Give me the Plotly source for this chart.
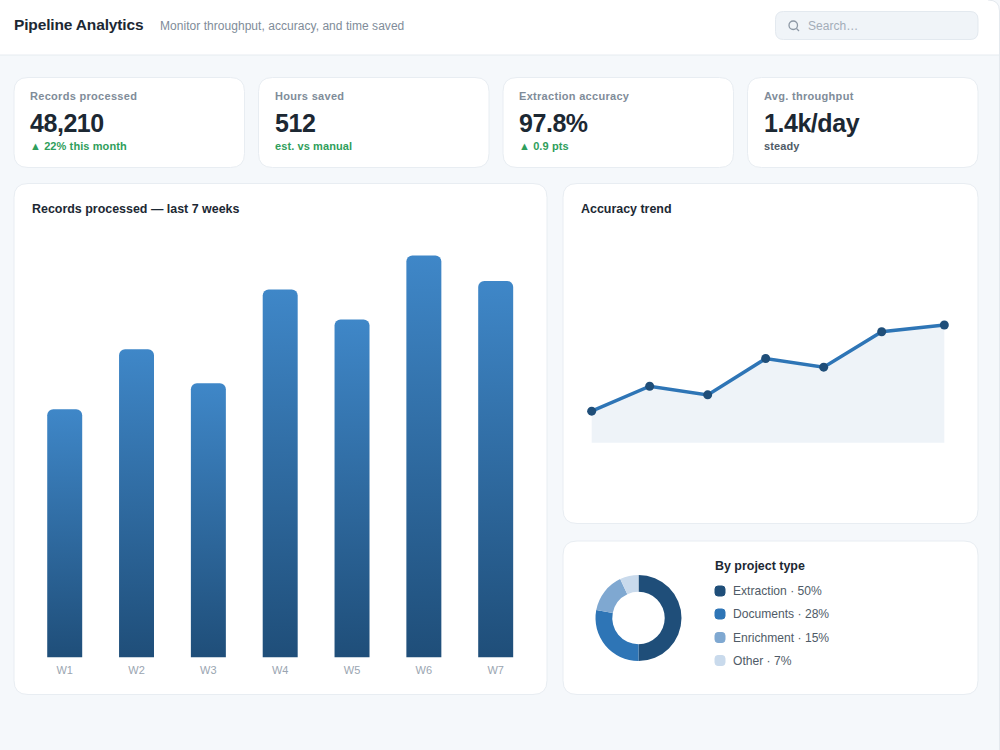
import plotly.graph_objects as go

# Dashboard content
kpi_labels = ["Records processed", "Hours saved", "Extraction accuracy", "Avg. throughput"]
kpi_values = ["48,210", "512", "97.8%", "1.4k/day"]
kpi_notes = ["▲ 22% this month", "est. vs manual", "▲ 0.9 pts", "steady"]
kpi_note_colors = ["#2f9e5b", "#2f9e5b", "#2f9e5b", "#4f5b67"]

weeks = ["W1", "W2", "W3", "W4", "W5", "W6", "W7"]
records = [5170, 6420, 5710, 7660, 7040, 8370, 7840]

trend_x = [0, 1, 2, 3, 4, 5, 6.08]
accuracy = [96.90, 97.16, 97.07, 97.45, 97.36, 97.73, 97.80]

project_types = ["Extraction", "Documents", "Enrichment", "Other"]
project_shares = [50, 28, 15, 7]
project_colors = ["#1f4e79", "#2e75b6", "#7fa8d1", "#c9daec"]

W, H = 1000, 750
BG = "#f5f8fb"
EDGE = "#e8edf2"
INK = "#1c2833"
MUTED = "#808c99"


def fx(px):
    return px / W


def fy(px):
    return 1 - px / H


def rounded(x0, y0, x1, y1, r):
    """SVG path of a rounded rectangle, given in page pixels."""
    a, b, c, d = fx(x0), fy(y0), fx(x1), fy(y1)
    rx, ry = r / W, r / H
    return (
        f"M{a + rx},{b} L{c - rx},{b} Q{c},{b} {c},{b - ry} "
        f"L{c},{d + ry} Q{c},{d} {c - rx},{d} "
        f"L{a + rx},{d} Q{a},{d} {a},{d + ry} "
        f"L{a},{b - ry} Q{a},{b} {a + rx},{b} Z"
    )


def panel(x0, y0, x1, y1, r=14, fill="#ffffff", line=EDGE):
    return dict(type="path", xref="paper", yref="paper", path=rounded(x0, y0, x1, y1, r),
                fillcolor=fill, line=dict(color=line, width=1), layer="below")


def text(x, y, s, size, color, bold=False, family="Liberation Sans"):
    return dict(xref="paper", yref="paper", x=fx(x - 1), y=fy(y), text=s, showarrow=False,
                xanchor="left", yanchor="middle", align="left", borderpad=0,
                font=dict(family=family, size=size, color=color,
                          weight=700 if bold else 400))


shapes = []
notes = []

# Page header with its rounded outer corner
shapes.append(dict(type="path", xref="paper", yref="paper",
                   path=(f"M0,1 L{fx(988)},1 Q{fx(999)},1 {fx(999)},{fy(11)} "
                         f"L{fx(999)},{fy(55)} L0,{fy(55)} Z"),
                   fillcolor="#ffffff", line=dict(width=0), layer="below"))
shapes.append(dict(type="line", xref="paper", yref="paper", x0=0, x1=fx(999),
                   y0=fy(55), y1=fy(55), line=dict(color="#e6ebf0", width=1), layer="below"))
shapes.append(dict(type="path", xref="paper", yref="paper",
                   path=(f"M{fx(988)},1 Q{fx(999.5)},1 {fx(999.5)},{fy(11)} L{fx(999.5)},0"),
                   line=dict(color="#e4e9ee", width=1), layer="below"))
shapes.append(dict(type="line", xref="paper", yref="paper", x0=fx(999.5), x1=fx(999.5),
                   y0=fy(11), y1=0, line=dict(color="#e4e9ee", width=1), layer="below"))
notes.append(text(14, 24.5, "Pipeline Analytics", 15.5, INK, True))
notes.append(text(160, 25.5, "Monitor throughput, accuracy, and time saved", 12, MUTED))

# Search box
shapes.append(panel(775.5, 11.5, 978, 39.5, r=8, fill="#f0f4f8", line="#e3e9ef"))
shapes.append(dict(type="circle", xref="paper", yref="paper", x0=fx(789), x1=fx(797.5),
                   y0=fy(21), y1=fy(29.5), line=dict(color="#8d98a5", width=1.3),
                   fillcolor="rgba(0,0,0,0)"))
shapes.append(dict(type="line", xref="paper", yref="paper", x0=fx(796.5), x1=fx(799),
                   y0=fy(28.5), y1=fy(31), line=dict(color="#8d98a5", width=1.3)))
notes.append(text(808, 25.5, "Search…", 12, "#a3adb8"))

# KPI cards
card_left = [14, 258.5, 503, 747.5]
for x0, label, value, note, color in zip(card_left, kpi_labels, kpi_values, kpi_notes, kpi_note_colors):
    shapes.append(panel(x0, 77.5, x0 + 230.5, 167.5))
    notes.append(text(x0 + 16, 96, label, 11, MUTED, True))
    notes.append(text(x0 + 16, 123.5, value, 25, INK, True))
    notes.append(text(x0 + 16, 146, note, 11, color, True))

# Chart panels
shapes.append(panel(14, 183.5, 547, 694.5))
shapes.append(panel(563, 183.5, 978, 523.5))
shapes.append(panel(563, 541, 978, 694.5))
notes.append(text(32, 209, "Records processed — last 7 weeks", 12.45, INK, True))
notes.append(text(581, 209, "Accuracy trend", 12.45, INK, True))
notes.append(text(714.5, 565.5, "By project type", 12.45, INK, True))

# Donut legend
for cy, name, share, color in zip([591, 614, 637.5, 660.5], project_types, project_shares, project_colors):
    shapes.append(panel(715, cy - 5, 725, cy + 5, r=3, fill=color, line=color))
    notes.append(text(733, cy, f"{name} · {share}%", 12.1, "#4f5b67"))

fig = go.Figure()

fig.add_trace(go.Bar(
    x=weeks, y=records, xaxis="x", yaxis="y", width=0.487,
    marker=dict(color="#2e6ca4", cornerradius=6, line=dict(width=0)),
    hoverinfo="x+y",
))

fig.add_trace(go.Scatter(
    x=trend_x, y=accuracy, xaxis="x2", yaxis="y2", mode="lines+markers", fill="tozeroy",
    fillcolor="#eef3f8", line=dict(color="#2e75b6", width=3.5),
    marker=dict(color="#1f4e79", size=9), cliponaxis=False, hoverinfo="y",
))

fig.add_trace(go.Pie(
    labels=project_types, values=project_shares, hole=0.61, sort=False, direction="clockwise",
    rotation=0, textinfo="none", marker=dict(colors=project_colors, line=dict(width=0)),
    domain=dict(x=[fx(595.5), fx(681.5)], y=[fy(661), fy(575)]), showlegend=False,
))

hidden = dict(showgrid=False, zeroline=False, showticklabels=False, ticks="", showline=False)

fig.update_layout(
    width=W, height=H, margin=dict(l=0, r=0, t=0, b=0), autosize=False,
    paper_bgcolor=BG, plot_bgcolor="rgba(0,0,0,0)", showlegend=False,
    shapes=shapes, annotations=notes,
    xaxis=dict(domain=[fx(28.8), fx(531.6)], anchor="y", showgrid=False, zeroline=False, showline=False,
               ticks="", ticklabelstandoff=4,
               tickfont=dict(family="Liberation Sans", size=11, color="#9aa5b1")),
    yaxis=dict(domain=[fy(657.5), fy(240)], anchor="x", range=[0, 8693], **hidden),
    xaxis2=dict(domain=[fx(581), fx(955)], anchor="y2", range=[-0.184, 6.264], **hidden),
    yaxis2=dict(domain=[fy(442.7), fy(240)], anchor="x2", range=[96.57, 98.689], **hidden),
)

# Vertical fade on the bars and tracking on the smaller text
finish = """
var gd = document.getElementById('{plot_id}');
var NS = 'http://www.w3.org/2000/svg';
var svg = gd.querySelector('.main-svg');
var defs = svg.querySelector('defs') || svg.insertBefore(document.createElementNS(NS, 'defs'), svg.firstChild);
var grad = document.createElementNS(NS, 'linearGradient');
grad.setAttribute('id', 'barFade');
grad.setAttribute('x1', '0'); grad.setAttribute('y1', '0');
grad.setAttribute('x2', '0'); grad.setAttribute('y2', '1');
[['0', '#3f87c8'], ['1', '#1f4e79']].forEach(function (s) {
  var stop = document.createElementNS(NS, 'stop');
  stop.setAttribute('offset', s[0]);
  stop.setAttribute('stop-color', s[1]);
  grad.appendChild(stop);
});
defs.appendChild(grad);
gd.querySelectorAll('.bars .point path').forEach(function (p) {
  p.style.setProperty('fill', 'url(#barFade)');
});
var labels = %s;
gd.querySelectorAll('.annotation-text').forEach(function (t) {
  var size = parseFloat(t.style.fontSize);
  if (size >= 20) t.style.letterSpacing = '-0.45px';
  else if (size > 15) t.style.letterSpacing = '-0.15px';
  else if (labels.indexOf(t.textContent) >= 0) t.style.letterSpacing = '0.3px';
  else if (size === 11) t.style.letterSpacing = '0.1px';
  else if (size === 12) t.style.letterSpacing = '0.04px';
});
""" % (str(kpi_labels))

fig.write_html("out.html", post_script=finish, config=dict(displayModeBar=False))
